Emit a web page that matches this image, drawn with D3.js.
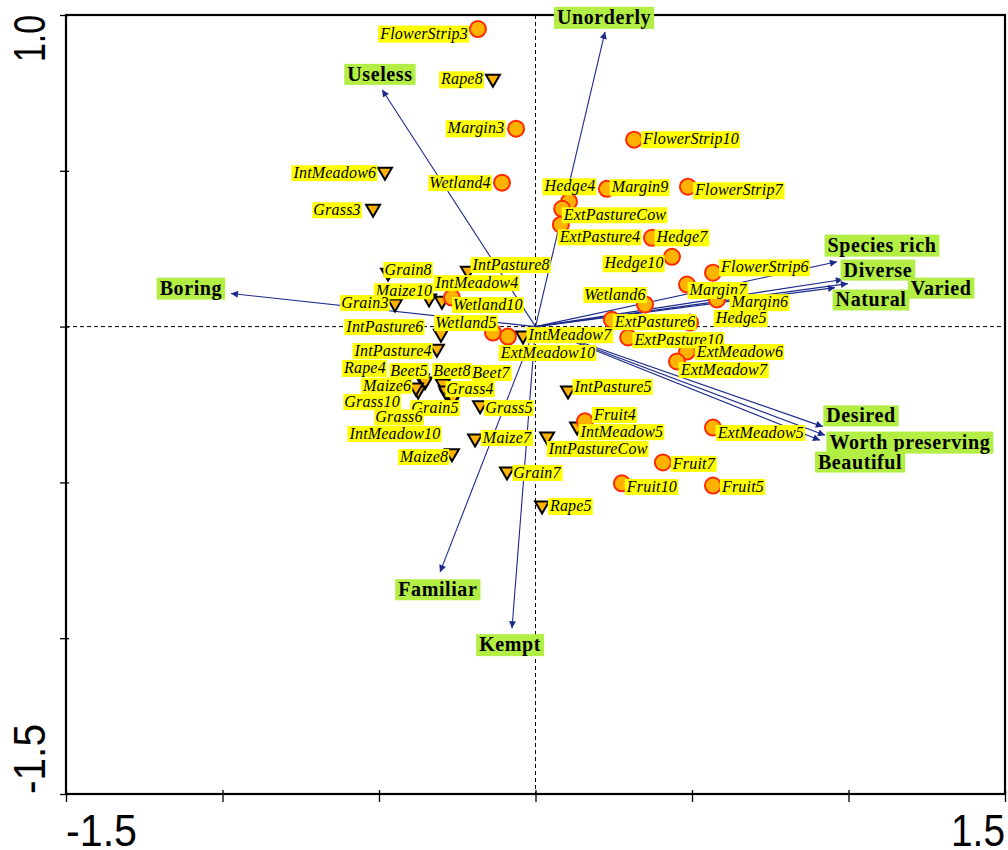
<!DOCTYPE html>
<html>
<head>
<meta charset="utf-8">
<script src="https://cdn.jsdelivr.net/npm/d3@7"></script>
<style>
  body { margin: 0; background: #fff; }
  svg { display: block; }
</style>
</head>
<body>
<div id="chart"></div>
<script>
// Global Variables
var full_width = 1008, full_height = 850;
var margin = {top: 15, right: 3, bottom: 56, left: 66};

// ---- data ----
// response variables (arrows): tip position and label position
var varNames = ["Unorderly", "Useless", "Boring", "Species rich", "Diverse", "Varied",
                "Natural", "Desired", "Worth preserving", "Beautiful", "Familiar", "Kempt"];
var varX = [0.222, -0.490, -0.973, 0.963, 0.982, 0.998, 0.957, 0.918, 0.925, 0.909, -0.305, -0.075];
var varY = [0.946, 0.760, 0.106, 0.208, 0.151, 0.138, 0.125, -0.321, -0.349, -0.365, -0.788, -0.968];
var varLabelX = [0.219, -0.497, -1.101, 1.107, 1.094, 1.296, 1.072, 1.040, 1.196, 1.037, -0.312, -0.081];
var varLabelY = [0.994, 0.811, 0.125, 0.263, 0.183, 0.125, 0.087, -0.285, -0.369, -0.433, -0.843, -1.019];

// sites drawn as circles (semi-natural habitats)
var circleNames = ["FlowerStrip3", "Margin3", "Wetland4", "FlowerStrip10", "Margin9", "FlowerStrip7",
                   "Hedge4", "ExtPastureCow", "ExtPasture4", "Hedge7", "Hedge10", "FlowerStrip6",
                   "Margin7", "Margin6", "Hedge5", "Wetland6", "ExtPasture6", "ExtPasture10",
                   "ExtMeadow6", "ExtMeadow7", "ExtMeadow5", "Fruit4", "Fruit7", "Fruit10", "Fruit5",
                   "Wetland10", "Wetland5", "ExtMeadow10"];
var circleX = [-0.184, -0.062, -0.107, 0.315, 0.228, 0.487, 0.107, 0.085, 0.081, 0.372, 0.436, 0.567,
               0.484, 0.580, 0.494, 0.350, 0.244, 0.296, 0.484, 0.452, 0.567, 0.158, 0.407, 0.276, 0.567,
               -0.267, -0.136, -0.088];
var circleY = [0.955, 0.635, 0.462, 0.600, 0.442, 0.449, 0.401, 0.378, 0.327, 0.285, 0.224, 0.173,
               0.135, 0.087, 0.013, 0.071, 0.022, -0.035, -0.080, -0.112, -0.324, -0.304, -0.436, -0.503, -0.510,
               0.093, -0.019, -0.032];
var circleLabelX = [-0.356, -0.190, -0.241, 0.497, 0.334, 0.650, 0.110, 0.254, 0.206, 0.468, 0.315, 0.733,
                    0.583, 0.717, 0.657, 0.254, 0.382, 0.458, 0.653, 0.602, 0.720, 0.254, 0.506, 0.372, 0.663,
                    -0.152, -0.222, 0.040];
var circleLabelY = [0.942, 0.638, 0.462, 0.603, 0.449, 0.439, 0.452, 0.359, 0.288, 0.288, 0.205, 0.192,
                    0.119, 0.080, 0.029, 0.103, 0.016, -0.042, -0.080, -0.138, -0.340, -0.282, -0.439, -0.513, -0.513,
                    0.071, 0.013, -0.083];

// sites drawn as triangles (arable / intensive land)
var triNames = ["Rape8", "IntMeadow6", "Grass3", "Grain8", "Maize10", "IntMeadow4", "Grain3", "IntPasture8",
                "IntPasture6", "IntPasture4", "Rape4", "Beet5", "Maize6", "Grass10", "Beet8", "Grass4",
                "Beet7", "Grain5", "Grass6", "IntMeadow10", "Grass5", "Maize7", "Maize8", "IntMeadow7",
                "IntPasture5", "IntMeadow5", "IntPastureCow", "Grain7", "Rape5"];
var triX = [-0.136, -0.481, -0.519, -0.471, -0.340, -0.299, -0.449, -0.216,
            -0.302, -0.315, -0.363, -0.353, -0.375, -0.382, -0.296, -0.283,
            -0.257, -0.273, -0.286, -0.264, -0.177, -0.193, -0.267, -0.040,
            0.104, 0.133, 0.037, -0.091, 0.021];
var triY = [0.792, 0.494, 0.375, 0.170, 0.087, 0.080, 0.071, 0.176,
            -0.026, -0.074, -0.170, -0.179, -0.208, -0.199, -0.186, -0.218,
            -0.224, -0.224, -0.208, -0.231, -0.256, -0.362, -0.410, -0.032,
            -0.208, -0.324, -0.356, -0.468, -0.577];
var triLabelX = [-0.235, -0.641, -0.634, -0.407, -0.420, -0.187, -0.545, -0.078,
                 -0.481, -0.455, -0.545, -0.404, -0.474, -0.522, -0.267, -0.209,
                 -0.142, -0.321, -0.436, -0.449, -0.085, -0.091, -0.356, 0.110,
                 0.248, 0.276, 0.200, 0.005, 0.113];
var triLabelY = [0.795, 0.494, 0.375, 0.183, 0.115, 0.141, 0.077, 0.199,
                 0.000, -0.077, -0.131, -0.141, -0.188, -0.240, -0.141, -0.199,
                 -0.147, -0.260, -0.290, -0.343, -0.260, -0.356, -0.417, -0.026,
                 -0.192, -0.337, -0.391, -0.468, -0.574];

var xTicks = [-1.5, -1.0, -0.5, 0, 0.5, 1.0, 1.5];
var yTicks = [-1.5, -1.0, -0.5, 0, 0.5, 1.0];

// ---- drawing ----
var width = full_width - margin.left - margin.right;
var height = full_height - margin.top - margin.bottom;

var x = d3.scaleLinear().domain([-1.5, 1.5]).range([margin.left, margin.left + width]);
var y = d3.scaleLinear().domain([-1.5, 1.0]).range([margin.top + height, margin.top]);

var svg = d3.select("#chart")
            .append("svg")
            .attr("width", full_width)
            .attr("height", full_height);

svg.append("defs").append("marker")
   .attr("id", "arrowhead")
   .attr("viewBox", "0 0 10 10")
   .attr("refX", 10).attr("refY", 5)
   .attr("markerWidth", 11).attr("markerHeight", 7)
   .attr("markerUnits", "userSpaceOnUse")
   .attr("orient", "auto")
   .append("path")
   .attr("d", "M0,0 L10,5 L0,10 Z")
   .attr("fill", "#1c2a8c");

// zero lines
svg.append("line")
   .attr("x1", x(-1.5)).attr("x2", x(1.5))
   .attr("y1", y(0)).attr("y2", y(0))
   .attr("stroke", "#000").attr("stroke-width", 1)
   .attr("stroke-dasharray", "4,3");
svg.append("line")
   .attr("x1", x(0)).attr("x2", x(0))
   .attr("y1", y(1.0)).attr("y2", y(-1.5))
   .attr("stroke", "#000").attr("stroke-width", 1)
   .attr("stroke-dasharray", "4,3");

// axes
var xAxis = svg.append("g")
   .attr("transform", "translate(0," + y(-1.5) + ")")
   .call(d3.axisBottom(x).tickValues(xTicks).tickFormat("").tickSize(8).tickSizeOuter(0));
xAxis.selectAll(".tick line").attr("y1", -4).attr("stroke-width", 1.3);
var yAxis = svg.append("g")
   .attr("transform", "translate(" + x(-1.5) + ",0)")
   .call(d3.axisLeft(y).tickValues(yTicks).tickFormat("").tickSize(6).tickSizeOuter(0));
yAxis.selectAll(".tick line").attr("x1", 3).attr("stroke-width", 1.3);
svg.selectAll(".domain").remove();

// frame
svg.append("rect")
   .attr("x", x(-1.5)).attr("y", y(1.0))
   .attr("width", x(1.5) - x(-1.5)).attr("height", y(-1.5) - y(1.0))
   .attr("fill", "none").attr("stroke", "#000").attr("stroke-width", 2.2);

// axis end labels
var tickFont = "'Liberation Sans', Arial, sans-serif";
svg.append("text").text("-1.5")
   .attr("x", x(-1.5)).attr("y", 846)
   .attr("font-family", tickFont).attr("font-size", 44)
   .attr("textLength", 71).attr("lengthAdjust", "spacingAndGlyphs");
svg.append("text").text("1.5")
   .attr("x", x(1.5)).attr("y", 846).attr("text-anchor", "end")
   .attr("font-family", tickFont).attr("font-size", 44)
   .attr("textLength", 54).attr("lengthAdjust", "spacingAndGlyphs");
svg.append("text").text("1.0")
   .attr("transform", "translate(45," + y(1.0) + ") rotate(-90)")
   .attr("text-anchor", "end")
   .attr("font-family", tickFont).attr("font-size", 44)
   .attr("textLength", 47).attr("lengthAdjust", "spacingAndGlyphs");
svg.append("text").text("-1.5")
   .attr("transform", "translate(45," + y(-1.5) + ") rotate(-90)")
   .attr("font-family", tickFont).attr("font-size", 44)
   .attr("textLength", 70).attr("lengthAdjust", "spacingAndGlyphs");

// arrows
var arrows = varNames.map(function(n, i) {
  return {name: n, x: varX[i], y: varY[i], lx: varLabelX[i], ly: varLabelY[i]};
});
svg.append("g").selectAll("line")
   .data(arrows).enter()
   .append("line")
   .attr("x1", x(0)).attr("y1", y(0))
   .attr("x2", function(d) { return x(d.x); })
   .attr("y2", function(d) { return y(d.y); })
   .attr("stroke", "#1c2a8c").attr("stroke-width", 1.1)
   .attr("marker-end", "url(#arrowhead)");

// site markers
var circles = circleNames.map(function(n, i) {
  return {name: n, x: circleX[i], y: circleY[i], lx: circleLabelX[i], ly: circleLabelY[i]};
});
var triangles = triNames.map(function(n, i) {
  return {name: n, x: triX[i], y: triY[i], lx: triLabelX[i], ly: triLabelY[i]};
});

svg.append("g").selectAll("path")
   .data(triangles).enter()
   .append("path")
   .attr("d", "M-7,-5 L7,-5 L0,7 Z")
   .attr("transform", function(d) { return "translate(" + x(d.x) + "," + y(d.y) + ")"; })
   .attr("fill", "#ffb300").attr("stroke", "#000").attr("stroke-width", 2)
   .attr("stroke-linejoin", "miter");

svg.append("g").selectAll("circle")
   .data(circles).enter()
   .append("circle")
   .attr("cx", function(d) { return x(d.x); })
   .attr("cy", function(d) { return y(d.y); })
   .attr("r", 8)
   .attr("fill", "#ffb300").attr("stroke", "#ff2a00").attr("stroke-width", 2);

// labels with coloured background boxes
function addLabel(g, d, opts) {
  var lg = g.append("g");
  var t = lg.append("text")
            .text(d.name)
            .attr("x", x(d.lx)).attr("y", y(d.ly))
            .attr("text-anchor", "middle")
            .attr("dominant-baseline", "central")
            .attr("font-family", "'Liberation Serif', 'Times New Roman', serif")
            .attr("font-size", opts.size)
            .attr("letter-spacing", opts.spacing)
            .attr("font-style", opts.italic ? "italic" : "normal")
            .attr("font-weight", opts.bold ? "bold" : "normal")
            .attr("fill", "#000");
  var b = t.node().getBBox();
  lg.insert("rect", "text")
    .attr("x", b.x - opts.pad).attr("y", b.y + 1)
    .attr("width", b.width + 2 * opts.pad).attr("height", b.height - 1)
    .attr("fill", opts.bg);
}

var siteLabels = svg.append("g");
circles.concat(triangles).forEach(function(d) {
  addLabel(siteLabels, d, {size: 16, spacing: 0.2, italic: true, bold: false, pad: 1, bg: "#ffff00"});
});

var varLabels = svg.append("g");
arrows.forEach(function(d) {
  addLabel(varLabels, d, {size: 20, spacing: 0.6, italic: false, bold: true, pad: 3, bg: "#b2ee44"});
});
</script>
</body>
</html>
